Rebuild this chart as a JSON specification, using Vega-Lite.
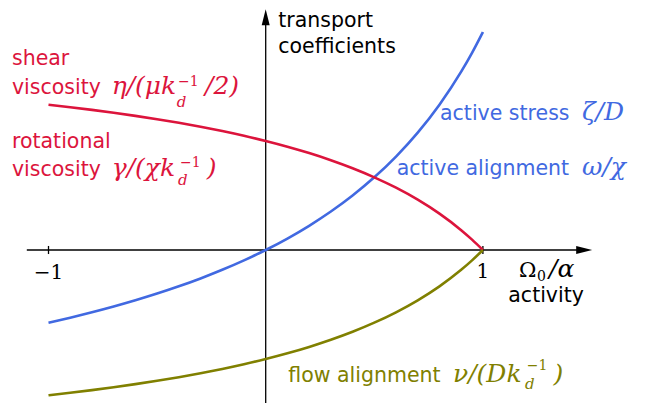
{
  "$schema": "https://vega.github.io/schema/vega-lite/v6.json",
  "width": 646,
  "height": 403,
  "padding": 0,
  "autosize": {"type": "none"},
  "background": "white",
  "config": {"view": {"stroke": null}},
  "datasets": {
    "curves": [
      {"s": "blue", "x": -1.0, "y": -0.6667}, {"s": "blue", "x": -0.9, "y": -0.6207}, {"s": "blue", "x": -0.8, "y": -0.5714},
      {"s": "blue", "x": -0.7, "y": -0.5185}, {"s": "blue", "x": -0.6, "y": -0.4615}, {"s": "blue", "x": -0.5, "y": -0.4},
      {"s": "blue", "x": -0.4, "y": -0.3333}, {"s": "blue", "x": -0.3, "y": -0.2609}, {"s": "blue", "x": -0.2, "y": -0.1818},
      {"s": "blue", "x": -0.1, "y": -0.0952}, {"s": "blue", "x": 0.0, "y": 0.0}, {"s": "blue", "x": 0.1, "y": 0.1053},
      {"s": "blue", "x": 0.2, "y": 0.2222}, {"s": "blue", "x": 0.3, "y": 0.3529}, {"s": "blue", "x": 0.4, "y": 0.5},
      {"s": "blue", "x": 0.5, "y": 0.6667}, {"s": "blue", "x": 0.6, "y": 0.8571}, {"s": "blue", "x": 0.7, "y": 1.0769},
      {"s": "blue", "x": 0.8, "y": 1.3333}, {"s": "blue", "x": 0.9, "y": 1.6364}, {"s": "blue", "x": 0.95, "y": 1.8095},
      {"s": "blue", "x": 1.0, "y": 2.0},
      {"s": "red", "x": -1.0, "y": 1.3333}, {"s": "red", "x": -0.9, "y": 1.3103}, {"s": "red", "x": -0.8, "y": 1.2857},
      {"s": "red", "x": -0.7, "y": 1.2593}, {"s": "red", "x": -0.6, "y": 1.2308}, {"s": "red", "x": -0.5, "y": 1.2},
      {"s": "red", "x": -0.4, "y": 1.1667}, {"s": "red", "x": -0.3, "y": 1.1304}, {"s": "red", "x": -0.2, "y": 1.0909},
      {"s": "red", "x": -0.1, "y": 1.0476}, {"s": "red", "x": 0.0, "y": 1.0}, {"s": "red", "x": 0.1, "y": 0.9474},
      {"s": "red", "x": 0.2, "y": 0.8889}, {"s": "red", "x": 0.3, "y": 0.8235}, {"s": "red", "x": 0.4, "y": 0.75},
      {"s": "red", "x": 0.5, "y": 0.6667}, {"s": "red", "x": 0.6, "y": 0.5714}, {"s": "red", "x": 0.7, "y": 0.4615},
      {"s": "red", "x": 0.8, "y": 0.3333}, {"s": "red", "x": 0.9, "y": 0.1818}, {"s": "red", "x": 0.95, "y": 0.0952},
      {"s": "red", "x": 1.0, "y": 0.0},
      {"s": "olive", "x": -1.0, "y": -1.3333}, {"s": "olive", "x": -0.9, "y": -1.3103}, {"s": "olive", "x": -0.8, "y": -1.2857},
      {"s": "olive", "x": -0.7, "y": -1.2593}, {"s": "olive", "x": -0.6, "y": -1.2308}, {"s": "olive", "x": -0.5, "y": -1.2},
      {"s": "olive", "x": -0.4, "y": -1.1667}, {"s": "olive", "x": -0.3, "y": -1.1304}, {"s": "olive", "x": -0.2, "y": -1.0909},
      {"s": "olive", "x": -0.1, "y": -1.0476}, {"s": "olive", "x": 0.0, "y": -1.0}, {"s": "olive", "x": 0.1, "y": -0.9474},
      {"s": "olive", "x": 0.2, "y": -0.8889}, {"s": "olive", "x": 0.3, "y": -0.8235}, {"s": "olive", "x": 0.4, "y": -0.75},
      {"s": "olive", "x": 0.5, "y": -0.6667}, {"s": "olive", "x": 0.6, "y": -0.5714}, {"s": "olive", "x": 0.7, "y": -0.4615},
      {"s": "olive", "x": 0.8, "y": -0.3333}, {"s": "olive", "x": 0.9, "y": -0.1818}, {"s": "olive", "x": 0.95, "y": -0.0952},
      {"s": "olive", "x": 1.0, "y": 0.0}
    ],
    "axes": [
      {"x": -1.0999, "y": 0, "x2": 1.45, "y2": 0},
      {"x": 0, "y": -1.4037, "x2": 0, "y2": 2.12},
      {"x": -1, "y": -0.037, "x2": -1, "y2": 0.037},
      {"x": 1, "y": -0.037, "x2": 1, "y2": 0.037}
    ],
    "arrows": [
      {"x": 1.4664, "y": 0, "dir": "right"},
      {"x": 0, "y": 2.1349, "dir": "up"}
    ],
    "sans": [
      {"s": "red", "x": -1.1681, "y": 1.6972, "t": "shear"},
      {"s": "red", "x": -1.1681, "y": 1.4312, "t": "viscosity"},
      {"s": "red", "x": -1.1681, "y": 0.9358, "t": "rotational"},
      {"s": "red", "x": -1.1681, "y": 0.6789, "t": "viscosity"},
      {"s": "black", "x": 0.058, "y": 2.0459, "t": "transport"},
      {"s": "black", "x": 0.058, "y": 1.8028, "t": "coefficients"},
      {"s": "blue", "x": 0.8025, "y": 1.1927, "t": "active stress"},
      {"s": "blue", "x": 0.6031, "y": 0.6881, "t": "active alignment"},
      {"s": "black", "x": 1.1169, "y": -0.4771, "t": "activity"},
      {"s": "olive", "x": 0.1041, "y": -1.211, "t": "flow alignment"}
    ],
    "mathit": [
      {"s": "red", "x": -0.709, "y": 1.4312, "t": "η/(μk"},
      {"s": "red", "x": -0.2795, "y": 1.4312, "t": "/2)"},
      {"s": "red", "x": -0.709, "y": 0.6789, "t": "γ/(χk"},
      {"s": "red", "x": -0.2716, "y": 0.6789, "t": ")"},
      {"s": "blue", "x": 1.4563, "y": 1.1927, "t": "ζ/D"},
      {"s": "blue", "x": 1.4563, "y": 0.6881, "t": "ω/χ"},
      {"s": "olive", "x": 0.8623, "y": -1.211, "t": "ν/(Dk"},
      {"s": "olive", "x": 1.325, "y": -1.211, "t": ")"},
      {"s": "black", "x": 1.3043, "y": -0.2477, "t": "/α"}
    ],
    "mathrm": [
      {"s": "black", "x": 1.1662, "y": -0.2477, "t": "Ω"}
    ],
    "ticklabels": [
      {"s": "black", "x": -1, "y": -0.2661, "t": "−1"},
      {"s": "black", "x": 1, "y": -0.2569, "t": "1"}
    ],
    "scripts": [
      {"s": "red", "x": -0.4038, "y": 1.5046, "t": "−1"},
      {"s": "red", "x": -0.3946, "y": 0.7615, "t": "−1"},
      {"s": "olive", "x": 1.2017, "y": -1.1009, "t": "−1"},
      {"s": "black", "x": 1.2491, "y": -0.2844, "t": "0"}
    ],
    "subd": [
      {"s": "red", "x": -0.4098, "y": 1.3119, "t": "d"},
      {"s": "red", "x": -0.4038, "y": 0.5963, "t": "d"},
      {"s": "olive", "x": 1.1938, "y": -1.2752, "t": "d"}
    ]
  },
  "encoding": {
    "x": {"field": "x", "type": "quantitative", "scale": {"domain": [-1.2233, 1.7509], "nice": false, "zero": false}, "axis": null},
    "y": {"field": "y", "type": "quantitative", "scale": {"domain": [-1.4037, 2.2936], "nice": false, "zero": false}, "axis": null}
  },
  "layer": [
    {
      "data": {"name": "axes"},
      "mark": {"type": "rule", "color": "black", "strokeWidth": 1.3},
      "encoding": {"x2": {"field": "x2"}, "y2": {"field": "y2"}}
    },
    {
      "data": {"name": "arrows"},
      "mark": {"type": "point", "filled": true, "opacity": 1, "color": "black", "size": 256, "strokeWidth": 0},
      "encoding": {
        "shape": {"field": "dir", "type": "nominal", "scale": {"domain": ["right", "up"], "range": ["M1,0L-1,-0.5L-1,0.5Z", "M0,-1L-0.5,1L0.5,1Z"]}, "legend": null}
      }
    },
    {
      "data": {"name": "curves"},
      "mark": {"type": "line", "strokeWidth": 2.6, "interpolate": "monotone"},
      "encoding": {
        "color": {"field": "s", "type": "nominal", "scale": {"domain": ["red", "blue", "olive", "black"], "range": ["#DC143C", "#4169E1", "#808000", "#000000"]}, "legend": null},
        "order": {"field": "x", "type": "quantitative"}
      }
    },
    {
      "data": {"name": "sans"},
      "mark": {"type": "text", "font": "DejaVu Sans", "fontSize": 20.5, "align": "left", "baseline": "alphabetic"},
      "encoding": {"text": {"field": "t"}, "color": {"field": "s", "type": "nominal", "legend": null}}
    },
    {
      "data": {"name": "mathit"},
      "mark": {"type": "text", "font": "DejaVu Serif", "fontStyle": "italic", "fontSize": 25, "align": "left", "baseline": "alphabetic"},
      "encoding": {"text": {"field": "t"}, "color": {"field": "s", "type": "nominal", "legend": null}}
    },
    {
      "data": {"name": "mathrm"},
      "mark": {"type": "text", "font": "DejaVu Serif", "fontSize": 21, "align": "left", "baseline": "alphabetic"},
      "encoding": {"text": {"field": "t"}, "color": {"field": "s", "type": "nominal", "legend": null}}
    },
    {
      "data": {"name": "ticklabels"},
      "mark": {"type": "text", "font": "DejaVu Serif", "fontSize": 20, "align": "center", "baseline": "alphabetic"},
      "encoding": {"text": {"field": "t"}, "color": {"field": "s", "type": "nominal", "legend": null}}
    },
    {
      "data": {"name": "scripts"},
      "mark": {"type": "text", "font": "DejaVu Serif", "fontSize": 14, "align": "left", "baseline": "alphabetic"},
      "encoding": {"text": {"field": "t"}, "color": {"field": "s", "type": "nominal", "legend": null}}
    },
    {
      "data": {"name": "subd"},
      "mark": {"type": "text", "font": "DejaVu Serif", "fontStyle": "italic", "fontSize": 15, "align": "left", "baseline": "alphabetic"},
      "encoding": {"text": {"field": "t"}, "color": {"field": "s", "type": "nominal", "legend": null}}
    }
  ]
}
